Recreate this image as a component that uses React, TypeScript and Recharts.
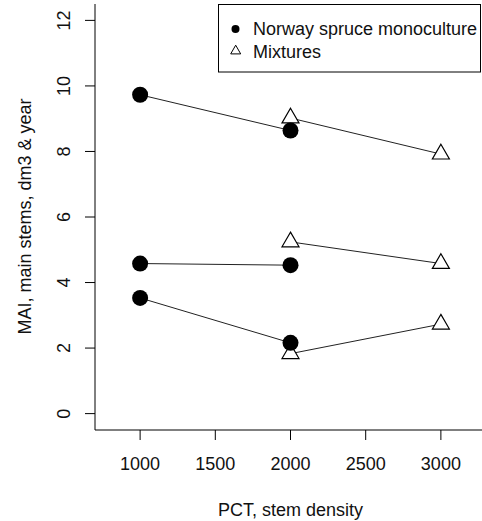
import React from "react";
import { ScatterChart, Scatter, XAxis, YAxis } from "recharts";

// PCT stem density for each treatment
const spruceX = [1000, 2000];
const mixX = [2000, 3000];

// MAI values, three sites per treatment
const spruceHigh = [9.73, 8.64];
const spruceMid = [4.58, 4.53];
const spruceLow = [3.53, 2.16];
const mixHigh = [9.02, 7.92];
const mixMid = [5.24, 4.58];
const mixLow = [1.83, 2.73];

const xTicks = [1000, 1500, 2000, 2500, 3000];
const yTicks = [0, 2, 4, 6, 8, 10, 12];
const legendNames = ["Norway spruce monoculture", "Mixtures"];
const xTitle = "PCT, stem density";
const yTitle = "MAI, main stems, dm3 & year";

const FONT = "'Liberation Sans', Arial, sans-serif";
const INK = "#111";

const pts = (xs: number[], ys: number[]) => xs.map((x, i) => ({ x, y: ys[i] }));

const Dot = (p: any) => <circle cx={p.cx} cy={p.cy} r={8} fill="#000" />;

const Tri = (p: any) => {
  const { cx, cy } = p;
  return (
    <polygon
      points={`${cx},${cy - 9.8} ${cx + 8.5},${cy + 4.9} ${cx - 8.5},${cy + 4.9}`}
      fill="#fff"
      stroke="#000"
      strokeWidth={1.2}
    />
  );
};

const YTick = ({ x, y, payload }: any) => (
  <text
    x={x - 15}
    y={y}
    transform={`rotate(-90 ${x - 15} ${y})`}
    textAnchor="middle"
    fontSize={18}
    fill={INK}
  >
    {payload.value}
  </text>
);

const lineStyle = { stroke: "#222", strokeWidth: 1 };

export default function App() {
  return (
    <div
      style={{
        position: "absolute",
        left: 0,
        top: 0,
        width: 482,
        height: 521,
        overflow: "hidden",
        background: "#fff",
        fontFamily: FONT,
      }}
    >
      <ScatterChart width={490} height={521} margin={{ top: 4, right: 4, left: 0, bottom: 0 }}>
        <XAxis
          type="number"
          dataKey="x"
          domain={[700, 3300]}
          ticks={xTicks}
          height={91}
          tickSize={10}
          tickMargin={17}
          tick={{ fill: INK, fontSize: 18 }}
          stroke="#000"
          label={{
            value: xTitle,
            position: "insideBottom",
            offset: 5,
            style: { fill: INK, fontSize: 18 },
          }}
        />
        <XAxis
          xAxisId="top"
          orientation="top"
          type="number"
          domain={[700, 3300]}
          height={0}
          tick={false}
          tickLine={false}
          stroke="#000"
        />
        <YAxis
          type="number"
          dataKey="y"
          domain={[-0.5, 12.5]}
          ticks={yTicks}
          width={95}
          tickSize={10}
          tickMargin={0}
          tick={<YTick />}
          stroke="#000"
        />
        <Scatter data={pts(mixX, mixHigh)} line={lineStyle} shape={Tri} isAnimationActive={false} />
        <Scatter data={pts(mixX, mixMid)} line={lineStyle} shape={Tri} isAnimationActive={false} />
        <Scatter data={pts(mixX, mixLow)} line={lineStyle} shape={Tri} isAnimationActive={false} />
        <Scatter data={pts(spruceX, spruceHigh)} line={lineStyle} shape={Dot} isAnimationActive={false} />
        <Scatter data={pts(spruceX, spruceMid)} line={lineStyle} shape={Dot} isAnimationActive={false} />
        <Scatter data={pts(spruceX, spruceLow)} line={lineStyle} shape={Dot} isAnimationActive={false} />
      </ScatterChart>
      <svg
        width={482}
        height={521}
        style={{ position: "absolute", left: 0, top: 0, pointerEvents: "none" }}
      >
        <text
          x={31}
          y={216.5}
          transform="rotate(-90 31 216.5)"
          textAnchor="middle"
          fontSize={18}
          fill={INK}
        >
          {yTitle}
        </text>
        <rect x={218.5} y={4.5} width={262} height={67.5} fill="#fff" stroke="#000" />
        <circle cx={235.5} cy={29} r={4} fill="#000" />
        <polygon points="235.7,45.2 240.7,53.9 230.7,53.9" fill="#fff" stroke="#000" />
        <text x={253} y={35} fontSize={18} fill={INK}>
          {legendNames[0]}
        </text>
        <text x={253} y={57.5} fontSize={18} fill={INK}>
          {legendNames[1]}
        </text>
      </svg>
    </div>
  );
}
